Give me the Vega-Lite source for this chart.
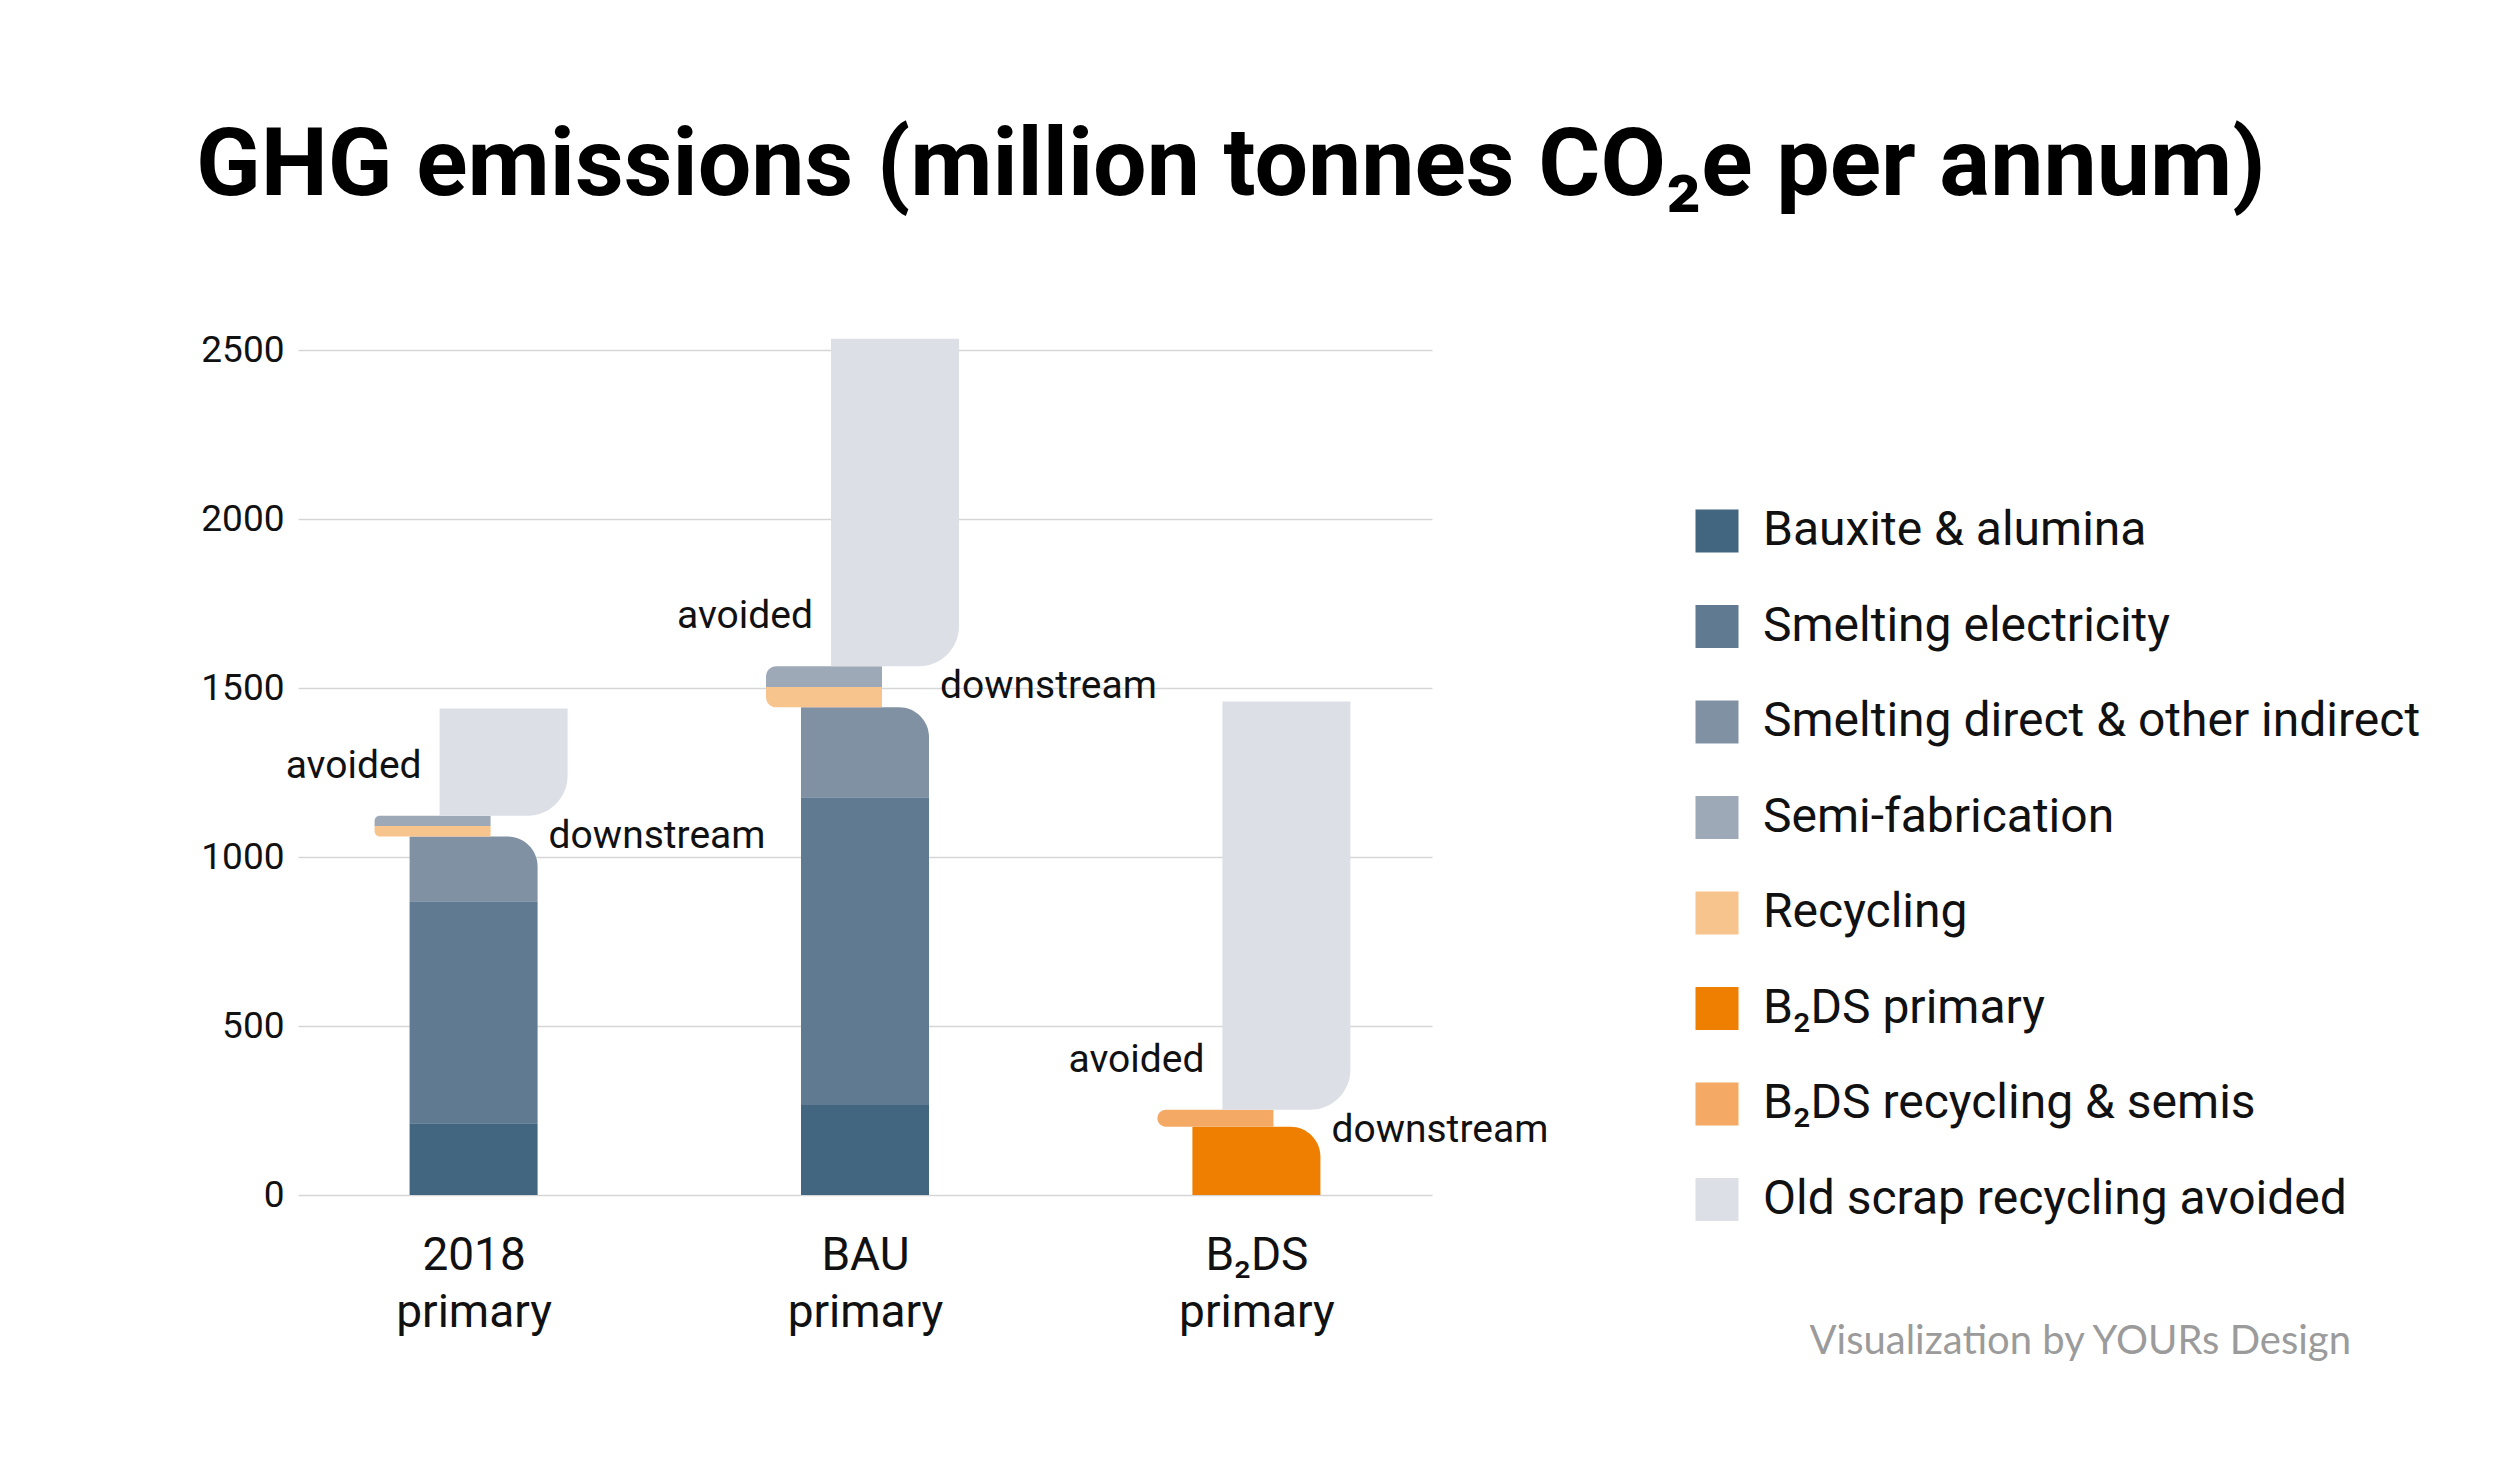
{
  "$schema": "https://vega.github.io/schema/vega-lite/v6.json",
  "width": 1134,
  "height": 845,
  "autosize": {"type": "none"},
  "padding": {"left": 298, "top": 350, "right": 1068, "bottom": 276},
  "background": "white",
  "config": {"view": {"stroke": null}, "font": "Roboto"},
  "title": {
    "text": "GHG emissions (million tonnes CO₂e per annum)",
    "anchor": "start",
    "frame": "group",
    "orient": "top",
    "font": "Roboto",
    "fontSize": 95,
    "fontWeight": "bold",
    "color": "#000000",
    "baseline": "alphabetic",
    "offset": 41,
    "dx": -102
  },
  "data": {
    "values": [
      {"cat": "2018 primary", "seg": "Bauxite & alumina", "stage": "primary", "ord": 1, "val": 212},
      {"cat": "2018 primary", "seg": "Smelting electricity", "stage": "primary", "ord": 2, "val": 657},
      {"cat": "2018 primary", "seg": "Smelting direct & other indirect", "stage": "primary", "ord": 3, "val": 192},
      {"cat": "2018 primary", "seg": "Recycling", "stage": "downstream", "ord": 4, "val": 31},
      {"cat": "2018 primary", "seg": "Semi-fabrication", "stage": "downstream", "ord": 5, "val": 30},
      {"cat": "2018 primary", "seg": "Old scrap recycling avoided", "stage": "avoided", "ord": 6, "val": 317},
      {"cat": "BAU primary", "seg": "Bauxite & alumina", "stage": "primary", "ord": 1, "val": 266},
      {"cat": "BAU primary", "seg": "Smelting electricity", "stage": "primary", "ord": 2, "val": 911},
      {"cat": "BAU primary", "seg": "Smelting direct & other indirect", "stage": "primary", "ord": 3, "val": 266},
      {"cat": "BAU primary", "seg": "Recycling", "stage": "downstream", "ord": 4, "val": 60},
      {"cat": "BAU primary", "seg": "Semi-fabrication", "stage": "downstream", "ord": 5, "val": 61},
      {"cat": "BAU primary", "seg": "Old scrap recycling avoided", "stage": "avoided", "ord": 6, "val": 969},
      {"cat": "B₂DS primary", "seg": "B₂DS primary", "stage": "primary", "ord": 1, "val": 202},
      {"cat": "B₂DS primary", "seg": "B₂DS recycling & semis", "stage": "downstream", "ord": 2, "val": 50},
      {"cat": "B₂DS primary", "seg": "Old scrap recycling avoided", "stage": "avoided", "ord": 3, "val": 1208}
    ]
  },
  "transform": [
    {"stack": "val", "groupby": ["cat"], "sort": [{"field": "ord", "order": "ascending"}], "as": ["v0", "v1"]}
  ],
  "encoding": {
    "x": {
      "field": "cat",
      "type": "nominal",
      "scale": {"type": "point", "domain": ["2018 primary", "BAU primary", "B₂DS primary"], "padding": 0.4486},
      "axis": {
        "title": "Visualization by YOURs Design",
        "titleX": 1511,
        "titleY": 158,
        "titleAlign": "left",
        "titleAnchor": null,
        "titleBaseline": "alphabetic",
        "titleFont": "Lato",
        "titleFontSize": 40,
        "titleFontWeight": "normal",
        "titleColor": "#9b9b9b",
        "labelExpr": "split(datum.label, ' ')",
        "labelAngle": 0,
        "labelFont": "Roboto",
        "labelFontSize": 46,
        "labelLineHeight": 57,
        "labelPadding": 38,
        "labelColor": "#111111",
        "domain": false,
        "ticks": false,
        "grid": false
      }
    },
    "y": {
      "field": "v0",
      "type": "quantitative",
      "scale": {"domain": [0, 2500], "nice": false},
      "axis": {
        "title": null,
        "values": [0, 500, 1000, 1500, 2000, 2500],
        "format": "d",
        "labelFont": "Roboto",
        "labelFontSize": 37,
        "labelColor": "#111111",
        "labelPadding": 14,
        "domain": false,
        "ticks": false,
        "gridColor": "#d6d6d6",
        "gridWidth": 1.6
      }
    },
    "color": {
      "field": "seg",
      "type": "nominal",
      "scale": {
        "domain": ["Bauxite & alumina", "Smelting electricity", "Smelting direct & other indirect", "Semi-fabrication", "Recycling", "B₂DS primary", "B₂DS recycling & semis", "Old scrap recycling avoided"],
        "range": ["#436680", "#607a92", "#8191a4", "#9ea9b8", "#f8c48e", "#ef7f00", "#f4a964", "#dcdfe6"]
      },
      "legend": {
        "title": null,
        "orient": "none",
        "legendX": 1395,
        "legendY": 157,
        "padding": 0,
        "symbolType": "square",
        "symbolSize": 1849,
        "symbolStrokeWidth": 0,
        "symbolOpacity": 1,
        "labelFont": "Roboto",
        "labelFontSize": 48,
        "labelColor": "#111111",
        "labelOffset": 22,
        "labelLimit": 0,
        "rowPadding": 47.5
      }
    }
  },
  "layer": [
    {
      "transform": [{"filter": {"field": "seg", "oneOf": ["Bauxite & alumina", "Smelting electricity"]}}],
      "mark": {"type": "bar", "width": 128},
      "encoding": {"y2": {"field": "v1"}}
    },
    {
      "transform": [{"filter": {"field": "seg", "oneOf": ["Smelting direct & other indirect", "B₂DS primary"]}}],
      "mark": {"type": "bar", "width": 128, "cornerRadiusTopRight": 30},
      "encoding": {"y2": {"field": "v1"}}
    },
    {
      "transform": [{"filter": {"field": "seg", "equal": "Recycling"}}],
      "mark": {"type": "bar", "width": 116, "xOffset": -41, "cornerRadiusBottomLeft": 20},
      "encoding": {"y2": {"field": "v1"}}
    },
    {
      "transform": [{"filter": {"field": "seg", "equal": "Semi-fabrication"}}],
      "mark": {"type": "bar", "width": 116, "xOffset": -41, "cornerRadiusTopLeft": 20},
      "encoding": {"y2": {"field": "v1"}}
    },
    {
      "transform": [{"filter": {"field": "seg", "equal": "B₂DS recycling & semis"}}],
      "mark": {"type": "bar", "width": 116, "xOffset": -41, "cornerRadiusTopLeft": 20, "cornerRadiusBottomLeft": 20},
      "encoding": {"y2": {"field": "v1"}}
    },
    {
      "transform": [{"filter": {"field": "stage", "equal": "avoided"}}],
      "mark": {"type": "bar", "width": 128, "xOffset": 30, "cornerRadiusBottomRight": 40},
      "encoding": {"y2": {"field": "v1"}}
    },
    {
      "transform": [{"filter": {"field": "stage", "equal": "avoided"}}],
      "mark": {"type": "text", "text": "avoided", "align": "right", "baseline": "alphabetic", "dx": -52, "dy": -38, "font": "Roboto", "fontSize": 39},
      "encoding": {"color": {"value": "#111111"}}
    },
    {
      "transform": [{"filter": {"field": "seg", "oneOf": ["Semi-fabrication", "B₂DS recycling & semis"]}}],
      "mark": {"type": "text", "text": "downstream", "align": "left", "baseline": "top", "dx": 75, "dy": 1, "font": "Roboto", "fontSize": 39},
      "encoding": {
        "y": {"field": "v1", "type": "quantitative", "axis": {"title": null}},
        "color": {"value": "#111111"}
      }
    }
  ]
}
